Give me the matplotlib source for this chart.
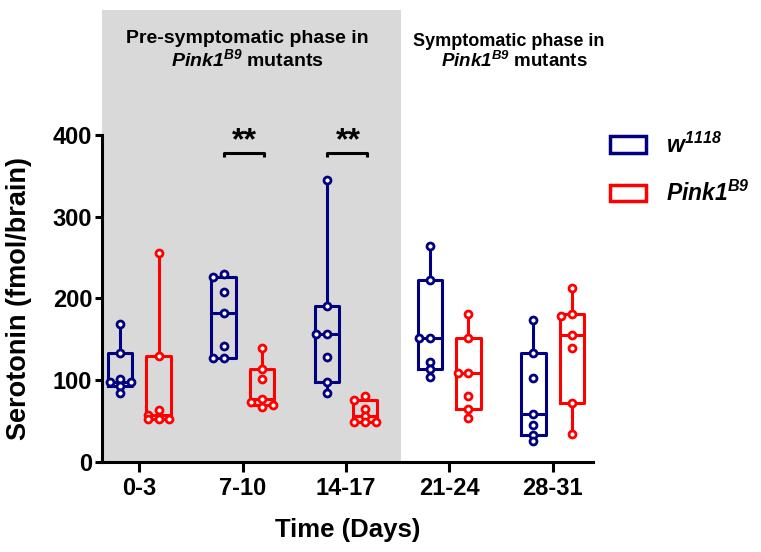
import matplotlib
matplotlib.use("Agg")
import matplotlib.pyplot as plt
from matplotlib.patches import Rectangle, Patch
import numpy as np

plt.rcParams['font.family'] = ['Liberation Sans', 'DejaVu Sans']
plt.rcParams['font.weight'] = 'bold'
# math text is only used for the italic gene names
plt.rcParams['mathtext.fontset'] = 'custom'
plt.rcParams['mathtext.rm'] = 'Liberation Sans:italic:bold'
plt.rcParams['mathtext.it'] = 'Liberation Sans:italic:bold'
plt.rcParams['mathtext.bf'] = 'Liberation Sans:italic:bold'

# Data (fmol/brain)
time_labels = ['0-3', '7-10', '14-17', '21-24', '28-31']
w1118 = [
    [168, 133, 101, 98, 98, 93, 84],
    [230, 226, 208, 182, 142, 127, 127],
    [345, 191, 156, 156, 128, 97, 84],
    [264, 222, 151, 151, 122, 114, 104],
    [174, 133, 102, 58, 45, 33, 25],
]
pink1 = [
    [256, 129, 63, 57, 52, 52, 52],
    [139, 114, 101, 77, 73, 70, 67],
    [80, 76, 64, 56, 49, 49, 49],
    [181, 151, 108, 108, 80, 64, 54],
    [213, 181, 178, 155, 139, 72, 34],
]
sig_groups = [1, 2]
sig_labels = ['**', '**']

blue = '#000080'
red = '#FF0000'
gray = '#D9D9D9'
offset = 0.185
box_w = 0.235
lw = 2.2


def box_stats(vals):
    q1, med, q3 = np.percentile(vals, [25, 50, 75], method='weibull')
    return dict(med=med, q1=q1, q3=q3, whislo=min(vals), whishi=max(vals), fliers=[])


def swarm(vals, center, px_x=103.0, px_y=0.817, step=0.105, min_d=6.0):
    # put points on the box centre, shift to the box edges where they overlap
    placed = []
    for v in sorted(vals, reverse=True):
        best, best_d = center, -1
        for k in [0, -1, 1]:
            x = center + k * step
            d = min([np.hypot((x - px) * px_x, (v - py) * px_y) for px, py in placed] or [99])
            if d >= min_d:
                best = x
                break
            if d > best_d:
                best, best_d = x, d
        placed.append((best, v))
    return placed


fig = plt.figure(figsize=(7.61, 5.52), dpi=100)
ax = fig.add_axes([0.134, 0.1636, 0.645, 0.592])

xpos = np.arange(len(time_labels))
ax.set_xlim(-0.363, 4.39)
ax.set_ylim(0, 400)

# shaded pre-symptomatic region
ax.add_patch(Rectangle((-0.363, 0), 2.534 + 0.363, 553, facecolor=gray, edgecolor='none',
                       clip_on=False, zorder=0))

for data, sgn, col in [(w1118, -1, blue), (pink1, 1, red)]:
    pos = xpos + sgn * offset
    stats = [box_stats(v) for v in data]
    ax.bxp(stats, positions=pos, widths=box_w, showcaps=False, showfliers=False,
           boxprops=dict(color=col, linewidth=lw),
           whiskerprops=dict(color=col, linewidth=lw),
           medianprops=dict(color=col, linewidth=lw),
           manage_ticks=False, zorder=3)
    for v, c in zip(data, pos):
        pts = np.array(swarm(v, c))
        ax.plot(pts[:, 0], pts[:, 1], 'o', ms=5.0, mew=2.0, mfc='white', mec=col,
                ls='none', zorder=4, clip_on=False)

# significance brackets
for g, lab in zip(sig_groups, sig_labels):
    x0, x1 = g - offset, g + offset + 0.02
    ax.plot([x0, x0, x1, x1], [373, 378, 378, 373], color='black', lw=2.2,
            clip_on=False, zorder=5, solid_capstyle='butt')
    ax.text(g + 0.02, 374, lab, ha='center', va='bottom', fontsize=23, fontweight='bold')

ax.set_xticks(xpos)
ax.set_xticklabels(time_labels)
ax.set_yticks([0, 100, 200, 300, 400])
ax.tick_params(axis='x', length=7, width=2.2, pad=4, labelsize=17)
ax.tick_params(axis='y', length=5, width=2.2, pad=2, labelsize=17)
for s in ['top', 'right']:
    ax.spines[s].set_visible(False)
for s in ['left', 'bottom']:
    ax.spines[s].set_linewidth(2.2)
ax.patch.set_visible(False)

ax.set_xlabel('Time (Days)', fontsize=18.5, fontweight='bold', labelpad=13)
ax.set_ylabel('Serotonin (fmol/brain)', fontsize=19.5, fontweight='bold', labelpad=15)

# phase annotations
fig.text(0.325, 0.930, 'Pre-symptomatic phase in', ha='center', va='center', fontsize=14)
fig.text(0.325, 0.893, r'$Pink1^{B9}$ mutants', ha='center', va='center', fontsize=14)
fig.text(0.668, 0.925, 'Symptomatic phase in', ha='center', va='center', fontsize=13)
fig.text(0.676, 0.889, r'$Pink1^{B9}$ mutants', ha='center', va='center', fontsize=13.5)

handles = [Patch(facecolor='white', edgecolor=blue, linewidth=2.5),
           Patch(facecolor='white', edgecolor=red, linewidth=2.5)]
labels = [r'$w^{1118}$', r'$Pink1^{B9}$']
fig.legend(handles, labels, loc='upper left', bbox_to_anchor=(0.774, 0.797), frameon=False,
           fontsize=16.5, handlelength=1.6, handleheight=0.75, handletextpad=0.85,
           labelspacing=1.0)

fig.savefig('out.png', dpi=100)
